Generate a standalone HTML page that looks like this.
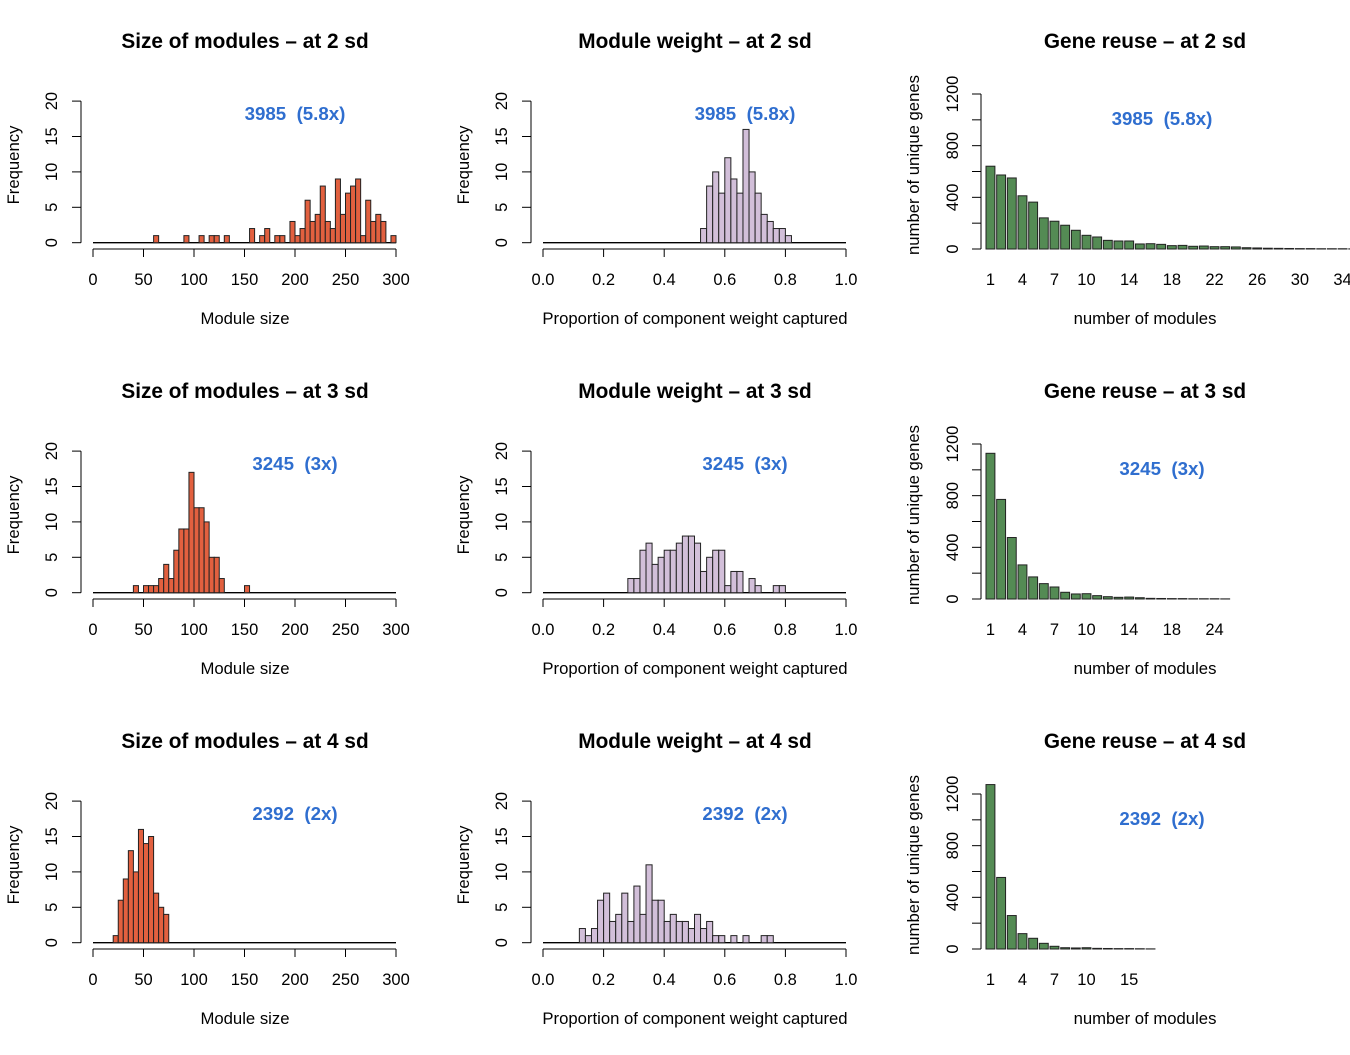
<!DOCTYPE html>
<html><head><meta charset="utf-8"><style>
body{margin:0;background:#fff}
svg text{font-family:"Liberation Sans",Arial,sans-serif;white-space:pre}
</style></head><body>
<svg id="c" width="1350" height="1050" xmlns="http://www.w3.org/2000/svg"></svg>
<script>
// ---- data ----
const levels = ["2 sd","3 sd","4 sd"];
const annotTotals = ["3985","3245","2392"];
const annotFold = ["(5.8x)","(3x)","(2x)"];
const sizeStart = [60, 40, 20];
const sizeCounts2 = [1,0,0,0,0,0,1,0,0,1,0,1,1,0,1,0,0,0,0,2,0,1,2,0,1,1,0,3,1,2,6,3,4,8,3,2,9,4,7,8,9,1,6,3,4,3,0,1];
const sizeCounts3 = [1,0,1,1,1,2,4,2,6,9,9,17,12,12,10,5,5,2,0,0,0,0,1];
const sizeCounts4 = [1,6,9,13,10,16,14,15,7,5,4];
const weightStart = [0.52, 0.28, 0.12];
const weightCounts2 = [2,8,10,7,12,9,7,16,10,7,4,3,2,2,1];
const weightCounts3 = [2,2,6,7,4,5,6,6,7,8,8,7,3,5,6,6,1,3,3,0,2,1,0,0,1,1];
const weightCounts4 = [2,1,2,6,7,3,4,7,3,8,4,11,6,6,3,4,3,3,2,4,2,3,1,1,0,1,0,1,0,0,1,1];
const reuse2 = [641,573,550,412,363,241,215,184,145,106,93,67,62,62,39,41,36,26,28,21,23,18,18,16,10,8,6,5,4,3,3,2,2,2,1,1];
const reuse3 = [1128,771,476,264,171,119,93,52,39,41,26,18,13,15,10,5,4,3,3,2,2,2,1];
const reuse4 = [1273,554,259,119,83,44,21,10,8,10,5,4,3,3,2,1];
const reuseLabels2 = [1,4,7,10,14,18,22,26,30,34];
const reuseLabelBars2 = [1,4,7,10,14,18,22,26,30,34];
const reuseLabels3 = [1,4,7,10,14,18,24];
const reuseLabelBars3 = [1,4,7,10,14,18,22];
const reuseLabels4 = [1,4,7,10,15];
const reuseLabelBars4 = [1,4,7,10,14];
const sizeTicks = [0,50,100,150,200,250,300];
const weightTicks = [0,0.2,0.4,0.6,0.8,1.0];
const freqTicks = [0,5,10,15,20];
const reuseTicks = [0,200,400,600,800,1000,1200];
const reuseTickLabels = [0,400,800,1200];

const sizeCounts=[sizeCounts2,sizeCounts3,sizeCounts4];
const weightCounts=[weightCounts2,weightCounts3,weightCounts4];
const reuse=[reuse2,reuse3,reuse4];
const reuseLabels=[reuseLabels2,reuseLabels3,reuseLabels4];
const reuseLabelBars=[reuseLabelBars2,reuseLabelBars3,reuseLabelBars4];

const svg=document.getElementById('c');
const NS="http://www.w3.org/2000/svg";
function mk(tag,attrs,text){const e=document.createElementNS(NS,tag);for(const k in attrs)e.setAttribute(k,attrs[k]);if(text!==undefined)e.textContent=text;svg.appendChild(e);return e;}

function histPanel(r,c,title,xlabel,start,bw,counts,xmin,xmax,ticks,fmt,fill,pxPerUnit){
  const dx=450*c, dy=350*r;
  const x0=93+dx, y0=242.7+dy, yu=7.08;
  const sx=v=>x0+(v-xmin)*pxPerUnit;
  const sy=v=>y0-v*yu;
  let t=mk('text',{x:245+dx,y:48+dy,'text-anchor':'middle','font-size':20.8,'font-weight':'bold'},title);
  
  
  let l=mk('line',{x1:sx(xmin),x2:sx(xmax),y1:y0,y2:y0,stroke:'#000','stroke-width':1.3});
  
  
  counts.forEach((n,i)=>{
    if(n<=0)return;
    const a=start+i*bw;
    const b=mk('rect',{x:sx(a),y:sy(n),width:sx(a+bw)-sx(a),height:n*yu,fill:fill,stroke:'#222','stroke-width':1});
    
    
  });
  let ya=mk('line',{x1:81+dx,x2:81+dx,y1:sy(0),y2:sy(20),stroke:'#000','stroke-width':1});
  
  
  freqTicks.forEach(v=>{
    mk('line',{x1:72+dx,x2:81+dx,y1:sy(v),y2:sy(v),stroke:'#000'});
    const tl=mk('text',{x:0,y:0,transform:`translate(${57+dx},${sy(v)}) rotate(-90)`,'text-anchor':'middle','font-size':16.5},String(v));
    
    
  });
  let yl=mk('text',{x:0,y:0,transform:`translate(${19+dx},${165+dy}) rotate(-90)`,'text-anchor':'middle','font-size':16.7},'Frequency');
  
  
  let xa=mk('line',{x1:sx(ticks[0]),x2:sx(ticks[ticks.length-1]),y1:249+dy,y2:249+dy,stroke:'#000'});
  
  
  ticks.forEach(v=>{
    mk('line',{x1:sx(v),x2:sx(v),y1:249+dy,y2:257+dy,stroke:'#000'});
    const tl=mk('text',{x:sx(v),y:285+dy,'text-anchor':'middle','font-size':16.5},fmt(v));
    
    
  });
  let xl=mk('text',{x:245+dx,y:324+dy,'text-anchor':'middle','font-size':16.7},xlabel);
  
  
  let an=mk('text',{x:295+dx,y:120+dy,'text-anchor':'middle','font-size':18.7,'font-weight':'bold',fill:'#2f6ecf'},annotTotals[r]+'  '+annotFold[r]);
  
  
}

function reusePanel(r){
  const dx=900, dy=350*r;
  const y0=249+dy, k=155/1200;
  const sy=v=>y0-v*k;
  const step=10.67, bw=8.9, bx=i=>986+i*step;
  let t=mk('text',{x:245+dx,y:48+dy,'text-anchor':'middle','font-size':20.8,'font-weight':'bold'},'Gene reuse \u2013 at '+levels[r]);
  
  
  reuse[r].forEach((v,i)=>{
    const b=mk('rect',{x:bx(i),y:sy(v),width:bw,height:v*k,fill:'#548b54',stroke:'#222','stroke-width':1});
    
    
  });
  let ya=mk('line',{x1:981,x2:981,y1:sy(0),y2:sy(1200),stroke:'#000'});
  
  
  reuseTicks.forEach(v=>mk('line',{x1:972,x2:981,y1:sy(v),y2:sy(v),stroke:'#000'}));
  reuseTickLabels.forEach(v=>{
    const tl=mk('text',{x:0,y:0,transform:`translate(${958},${sy(v)}) rotate(-90)`,'text-anchor':'middle','font-size':16.5},String(v));
    
    
  });
  reuseLabels[r].forEach((n,j)=>{
    const tl=mk('text',{x:bx(reuseLabelBars[r][j]-1)+bw/2,y:285+dy,'text-anchor':'middle','font-size':16.5},String(n));
    
    
  });
  let yl=mk('text',{x:0,y:0,transform:`translate(${919},${165+dy}) rotate(-90)`,'text-anchor':'middle','font-size':16.7},'number of unique genes');
  
  
  let xl=mk('text',{x:1145,y:324+dy,'text-anchor':'middle','font-size':16.7},'number of modules');
  
  
  let an=mk('text',{x:1162,y:125+dy,'text-anchor':'middle','font-size':18.7,'font-weight':'bold',fill:'#2f6ecf'},annotTotals[r]+'  '+annotFold[r]);
  
  
}

for(let r=0;r<3;r++){
  histPanel(r,0,'Size of modules \u2013 at '+levels[r],'Module size',sizeStart[r],5,sizeCounts[r],0,300,sizeTicks,v=>String(v),'#e2603f',1.01);
  histPanel(r,1,'Module weight \u2013 at '+levels[r],'Proportion of component weight captured',weightStart[r],0.02,weightCounts[r],0,1,weightTicks,v=>v.toFixed(1),'#d2bfd9',303);
  reusePanel(r);
}
</script>
</body></html>
